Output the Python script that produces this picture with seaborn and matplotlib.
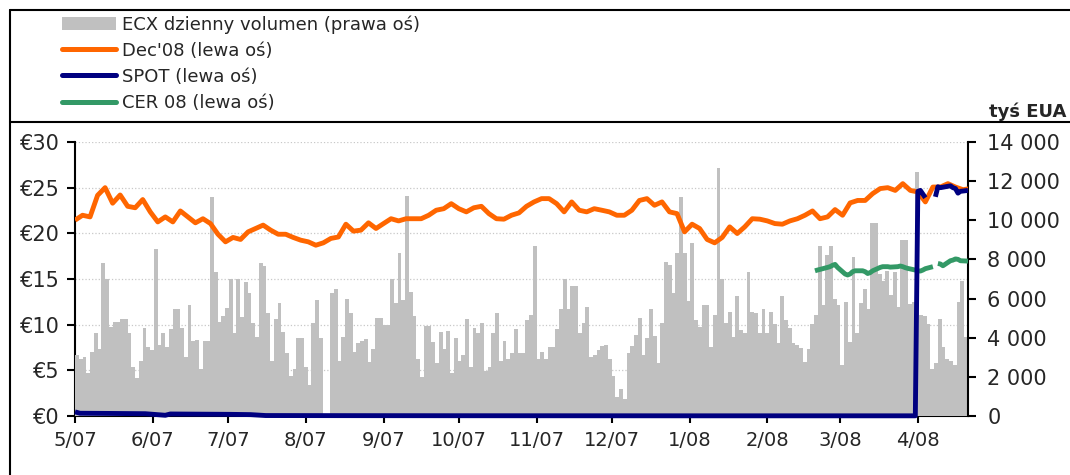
import matplotlib
matplotlib.use('Agg')
import matplotlib.pyplot as plt
import matplotlib.dates as mdates
from matplotlib.lines import Line2D
from matplotlib.patches import Patch
import seaborn as sns
import numpy as np
import pandas as pd

# ECX daily volume, thousand EUA (right axis), bars read left to right
volume = [
    3117, 2896, 2998, 2180, 3288, 4224, 3406, 7802, 6984, 4565, 4820, 4820, 4940, 4940,
    4224, 2521, 1925, 2828, 4513, 3509, 3373, 8516, 3628, 4224, 3543, 4428, 5450, 5450,
    4513, 2998, 5654, 3833, 3884, 2384, 3833, 3833, 11175, 7375, 4820, 5127, 5535,
    6984, 4258, 6984, 5076, 6863, 6267, 4735, 4020, 7802, 7683, 5246, 2828, 4940, 5757,
    4309, 3203, 2044, 2384, 4003, 4003, 2487, 1584, 4735, 5927, 4003, 0, 0, 6267, 6471,
    2811, 4020, 5961, 5246, 3288, 3714, 3833, 3918, 2777, 3406,
    5008, 5008, 4650, 4650, 6984, 5757, 8311, 5927, 11260, 6352, 5127, 2896, 1976, 4616,
    4616, 3799, 2726, 4309, 3423, 4343, 2214, 4003, 2828, 3117, 4940, 2521, 4513, 4258,
    4735, 2316, 2521, 4258, 5246, 2811, 3833, 2913, 3203, 4445,
    3237, 3237, 4905, 5161, 8686, 2896, 3288, 2896, 3509, 3509, 4428, 5450, 6984, 5450,
    6659, 6659, 4258, 4769, 5552, 3032, 3117, 3373, 3577, 3611, 2896, 2061, 988, 1363,
    852, 3203, 3594, 4139, 4990, 3117, 4003, 5450, 4071, 2692, 4735, 7888, 7717,
    6267, 8311, 11175, 8311, 5876, 8857, 4905, 4565, 5672, 5672, 3543, 5161, 12656, 6984,
    4735, 5331, 4020, 6148, 4394, 4224, 7375, 5331, 5246, 4224, 5450, 4224, 5331, 4684,
    3714, 6148, 4905, 4479, 3714, 3628, 3458, 2743, 3406, 4684, 5161, 8686,
    5672, 8226, 8686, 5995, 5672, 2606, 5842, 3799, 8106, 4258, 5757, 6471, 5450, 9853,
    9853, 7256, 6915, 7426, 6182, 7375, 5586, 8976, 8976, 5723, 5842, 12468, 5161, 5127,
    4684, 2384, 2692, 4940, 3509, 2896, 2828, 2606, 5842, 6898, 4020,
]

# Dec'08 futures, EUR (left axis), every third day from 1 May 2007
dec08 = [
    21.44, 21.98, 21.80, 24.16, 25.00, 23.30, 24.20, 22.96, 22.80, 23.70,
    22.35, 21.25, 21.80, 21.25, 22.45, 21.80, 21.15, 21.60, 21.07, 19.90,
    19.07, 19.55, 19.33, 20.16, 20.53, 20.90, 20.35, 19.90, 19.90, 19.55,
    19.25, 19.07, 18.70, 18.96, 19.44, 19.60, 21.00, 20.24, 20.35, 21.15,
    20.53, 21.07, 21.60, 21.36, 21.60, 21.60, 21.60, 21.98, 22.53, 22.70,
    23.25, 22.70, 22.35, 22.80, 22.96, 22.16, 21.60, 21.55, 21.98, 22.24,
    22.96, 23.44, 23.80, 23.80, 23.25, 22.35, 23.44, 22.53, 22.35, 22.70,
    22.53, 22.35, 21.98, 21.98, 22.53, 23.60, 23.80, 23.07, 23.44, 22.35,
    22.16, 20.16, 21.00, 20.53, 19.33, 18.96, 19.55, 20.71, 19.98, 20.71,
    21.60, 21.55, 21.36, 21.07, 21.00, 21.36, 21.60, 21.98, 22.45, 21.60,
    21.80, 22.60, 21.98, 23.33, 23.60, 23.60, 24.35, 24.90, 25.00, 24.70,
    25.44, 24.70, 24.53, 23.44, 25.07, 25.07, 25.44, 25.07, 24.78, 24.90,
]
dec08_dates = pd.date_range('2007-05-01', periods=len(dec08), freq='3D')

spot_dates = pd.to_datetime([
    '2007-05-01', '2007-05-03', '2007-05-15', '2007-05-29', '2007-06-06', '2007-06-08',
    '2007-06-20', '2007-07-02', '2007-07-10', '2007-07-16', '2007-08-15', '2007-10-01',
    '2008-01-02', '2008-03-31', '2008-04-01', '2008-04-02', '2008-04-03', '2008-04-04',
    '2008-04-07', '2008-04-08', '2008-04-09', '2008-04-10', '2008-04-11', '2008-04-14',
    '2008-04-15', '2008-04-16', '2008-04-17', '2008-04-18', '2008-04-21',
])
spot = [
    0.45, 0.30, 0.28, 0.25, 0.08, 0.22, 0.20, 0.18, 0.15, 0.05, 0.04, 0.03,
    0.02, 0.02, 24.6, 24.7, 24.3, 23.9, np.nan, 24.0, 25.1, 25.0, 25.05, 25.2,
    25.0, 24.9, 24.4, 24.6, 24.7,
]

cer_dates = pd.bdate_range('2008-02-20', '2008-04-21')
cer = [
    15.90, 15.98, 16.05, 16.27, 16.35, 16.50, 16.60, 16.27,
    15.55, 15.44, 15.55, 15.80, 15.90, 15.90, 15.80, 15.60, 15.70, 15.90, 16.27,
    16.35, 16.35, 16.35, 16.30, 16.35, 16.42, 16.35, 16.24, 16.16, 15.98,
    15.90, 15.87, 15.98, 16.13, 16.35, np.nan, 16.70, 16.64, 16.45, 17.00,
    17.07, 17.20, 17.15, 17.00, 16.96,
]

month_ticks = pd.date_range('2007-05-01', '2008-04-01', freq='MS')
month_labels = ['5/07', '6/07', '7/07', '8/07', '9/07', '10/07', '11/07', '12/07',
                '1/08', '2/08', '3/08', '4/08']
price_ticks = [0, 5, 10, 15, 20, 25, 30]
price_labels = ['€0', '€5', '€10', '€15', '€20', '€25', '€30']
vol_ticks = [0, 2000, 4000, 6000, 8000, 10000, 12000, 14000]
vol_labels = ['0', '2 000', '4 000', '6 000', '8 000', '10 000', '12 000', '14 000']

labels = ['ECX dzienny volumen (prawa oś)', "Dec'08 (lewa oś)", 'SPOT (lewa oś)', 'CER 08 (lewa oś)']
c_bar, c_dec, c_spot, c_cer = '#c0c0c0', '#ff6600', '#000080', '#339966'

sns.set_style('white')
plt.rcParams['font.family'] = ['DejaVu Sans']

fig = plt.figure(figsize=(10.7, 4.75), dpi=100)
ax = fig.add_axes([75 / 1070, 1 - 416 / 475, 893 / 1070, 274 / 475])
axv = ax.twinx()
axl = ax.twinx()

start, end = pd.Timestamp('2007-05-01'), pd.Timestamp('2008-04-21')
t0, t1 = mdates.date2num(start), mdates.date2num(end)

# grid layer (left price scale)
ax.set_ylim(0, 30)
ax.set_yticks(price_ticks)
ax.set_yticklabels(price_labels)
ax.yaxis.grid(True, color='#c8c8c8', linestyle=':', linewidth=0.9)
ax.xaxis.grid(False)

# volume bars, evenly spread over the period
edges = np.linspace(t0, t1, len(volume) + 1)
axv.bar(edges[:-1], volume, width=np.diff(edges), align='edge', color=c_bar, linewidth=0)
axv.set_ylim(0, 14000)
axv.set_yticks(vol_ticks)
axv.set_yticklabels(vol_labels)


def draw_line(a, dates, values, color, clip=True):
    s = pd.Series(values, index=pd.DatetimeIndex(dates))
    for _, part in s.groupby(s.isna().cumsum()):
        part = part.dropna()
        if len(part) > 1:
            sns.lineplot(x=part.index, y=part.values, ax=a, color=color,
                         linewidth=3.5, solid_capstyle='butt', clip_on=clip)


draw_line(axl, dec08_dates, dec08, c_dec)
draw_line(axl, cer_dates, cer, c_cer)
draw_line(axl, spot_dates, spot, c_spot, clip=False)
axl.set_ylim(0, 30)
axl.set_yticks([])
axl.set_ylabel('')
axl.set_xlabel('')

for a in (ax, axv, axl):
    a.set_xlim(t0, t1)
    for sp in a.spines.values():
        sp.set_visible(False)
ax.spines['left'].set_visible(True)
ax.spines['bottom'].set_visible(True)
axv.spines['right'].set_visible(True)
for sp in (ax.spines['left'], ax.spines['bottom'], axv.spines['right']):
    sp.set_color('black')
    sp.set_linewidth(1.5)

ax.set_xticks(mdates.date2num(month_ticks))
ax.set_xticklabels(month_labels)
ax.tick_params(axis='x', direction='out', length=5, width=1.5, pad=6, labelsize=14,
               bottom=True, color='black')
ax.tick_params(axis='y', direction='out', length=6, width=1.5, pad=5, labelsize=15,
               left=True, color='black')
axv.tick_params(axis='y', direction='out', length=6, width=1.5, pad=8, labelsize=15,
                right=True, color='black')

# legend block at the top
handles = [Patch(facecolor=c_bar, edgecolor='none'),
           Line2D([], [], color=c_dec, lw=3.6),
           Line2D([], [], color=c_spot, lw=3.6),
           Line2D([], [], color=c_cer, lw=3.6)]
fig.legend(handles, labels, loc='upper left', bbox_to_anchor=(62 / 1070, 1 - 15 / 475),
           frameon=False, fontsize=13, handlelength=3.0, handletextpad=0.35,
           labelspacing=0.45, borderpad=0, borderaxespad=0)

# chart frame lines
fx = 10 / 1070
fig.add_artist(Line2D([fx, fx], [0, 1 - 10 / 475], transform=fig.transFigure, color='black', lw=1.5))
fig.add_artist(Line2D([fx, 1], [1 - 10 / 475] * 2, transform=fig.transFigure, color='black', lw=1.5))
fig.add_artist(Line2D([fx, 1], [1 - 122 / 475] * 2, transform=fig.transFigure, color='black', lw=1.5))

fig.text(1066 / 1070, 1 - 112 / 475, 'tyś EUA', ha='right', va='center', fontsize=13,
         fontweight='bold')

fig.savefig('out.png', dpi=100)
